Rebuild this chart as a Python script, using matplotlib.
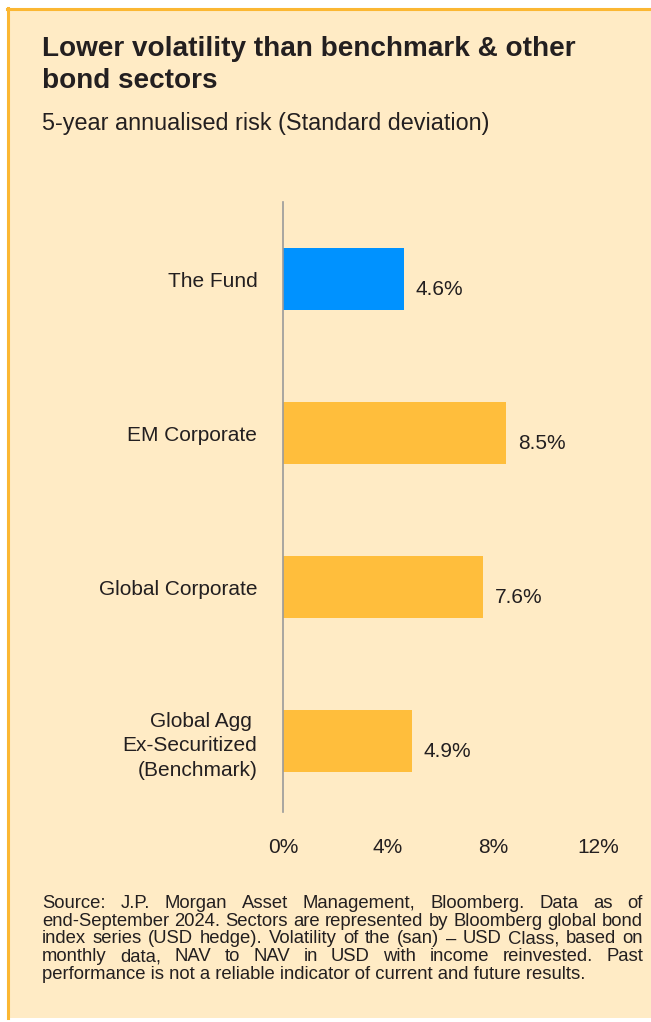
import matplotlib.pyplot as plt
from matplotlib.patches import Rectangle

plt.rcParams['font.family'] = ['Liberation Sans', 'DejaVu Sans']

categories = ['The Fund', 'EM Corporate', 'Global Corporate', 'Global Agg \nEx-Securitized\n(Benchmark)']
values = [4.6, 8.5, 7.6, 4.9]
bar_colors = ['#0092FF', '#FFBE3C', '#FFBE3C', '#FFBE3C']
xticks = [0, 4, 8, 12]
xtick_labels = ['0%', '4%', '8%', '12%']

title_lines = ['Lower volatility than benchmark & other', 'bond sectors']
subtitle = '5-year annualised risk (Standard deviation)'
source_lines = [
    'Source: J.P. Morgan Asset Management, Bloomberg. Data as of',
    'end-September 2024. Sectors are represented by Bloomberg global bond',
    'index series (USD hedge). Volatility of the (san) \u2013 USD Class, based on',
    'monthly data, NAV to NAV in USD with income reinvested. Past',
    'performance is not a reliable indicator of current and future results.',
]

W, H = 651, 1022
BG = '#FFEBC5'
BORDER = '#FBB733'
TXT = '#231F20'

fig = plt.figure(figsize=(W / 100, H / 100), dpi=100, facecolor='white')


def fx(px):
    return px / W


def fy(py):
    return 1 - py / H


# panel background and border
fig.patches.append(Rectangle((fx(7), fy(1018)), 1 - fx(7), fy(8) - fy(1018),
                             transform=fig.transFigure, facecolor=BG, edgecolor='none', zorder=-10))
fig.add_artist(plt.Line2D([fx(7), 1], [fy(9), fy(9)], color=BORDER, lw=2.2, zorder=-5))
fig.add_artist(plt.Line2D([fx(8), fx(8)], [fy(8), fy(1018)], color=BORDER, lw=2.2, zorder=-5))

# titles
fig.text(fx(42), fy(56), title_lines[0], fontsize=20.1, fontweight='bold', color=TXT, va='baseline')
fig.text(fx(42), fy(88), title_lines[1], fontsize=20.1, fontweight='bold', color=TXT, va='baseline')
fig.text(fx(42), fy(130), subtitle, fontsize=16.8, color=TXT, va='baseline')

# chart
ax = fig.add_axes([fx(283), fy(812), fx(598) - fx(283), fy(202) - fy(812)])
ax.set_facecolor('none')
ypos = list(range(len(categories)))
ax.barh(ypos, values, height=0.4, color=bar_colors)
ax.set_xlim(0, 12)
ax.set_ylim(3.46, -0.5)
for s in ['top', 'right', 'bottom']:
    ax.spines[s].set_visible(False)
ax.spines['left'].set_color('#9A9A9A')
ax.spines['left'].set_linewidth(1.2)
ax.set_xticks(xticks)
ax.set_xticklabels(xtick_labels)
ax.set_yticks(ypos)
ax.set_yticklabels(categories, multialignment='right', linespacing=1.35)
ax.tick_params(axis='both', length=0, labelsize=15, colors=TXT)
ax.tick_params(axis='y', pad=18.5)
ax.tick_params(axis='x', pad=19)
for y, v in zip(ypos, values):
    ax.annotate(f'{v}%', (v, y), xytext=(12, -10), textcoords='offset pixels',
                va='center', ha='left', fontsize=15, color=TXT)

# justified source note
renderer = fig.canvas.get_renderer()
left, right = 42, 643
for i, line in enumerate(source_lines):
    base = 908 + i * 17.7
    words = line.split(' ')
    if i == len(source_lines) - 1:
        fig.text(fx(left), fy(base), line, fontsize=13.3, color=TXT, va='baseline')
        continue
    texts = [fig.text(0, fy(base), w, fontsize=13.3, color=TXT, va='baseline') for w in words]
    widths = [t.get_window_extent(renderer).width for t in texts]
    gap = (right - left - sum(widths)) / (len(words) - 1)
    x = left
    for t, w in zip(texts, widths):
        t.set_x(fx(x))
        x += w + gap

fig.savefig('out.png', dpi=100, facecolor='white')
